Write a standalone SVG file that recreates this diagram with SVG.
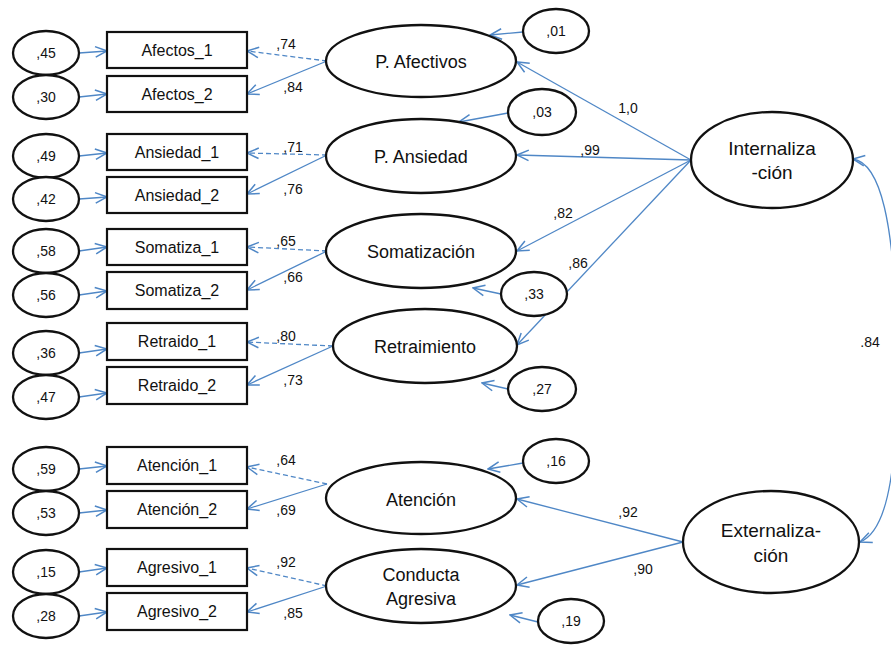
<svg xmlns="http://www.w3.org/2000/svg" width="891" height="646" viewBox="0 0 891 646">
<defs>
<marker id="arr" markerUnits="userSpaceOnUse" markerWidth="14" markerHeight="14" viewBox="0 0 12 12" refX="11" refY="6" orient="auto-start-reverse">
<path d="M1,1.5 L11,6 L1,10.5" fill="none" stroke="#4f87c6" stroke-width="1.3"/>
</marker>
</defs>
<style>
text{font-family:"Liberation Sans",Arial,sans-serif;fill:#111;text-anchor:middle}
.ell{fill:#fff;stroke:#111;stroke-width:2.3}
.box{fill:#fff;stroke:#111;stroke-width:2.2}
.ln{fill:none;stroke:#4f87c6;stroke-width:1.3;marker-end:url(#arr)}
.dash{stroke-dasharray:5,3}
.n{font-size:14px}
.b{font-size:16px}
.l{font-size:18px}
.lab{font-size:14px}
</style>

<g id="connectors">
<line class="ln" x1="79" y1="53" x2="107" y2="51"/>
<line class="ln" x1="79" y1="97" x2="107" y2="94"/>
<line class="ln" x1="79" y1="156" x2="107" y2="153"/>
<line class="ln" x1="79" y1="199" x2="107" y2="197"/>
<line class="ln" x1="79" y1="251" x2="107" y2="247"/>
<line class="ln" x1="79" y1="295" x2="107" y2="291"/>
<line class="ln" x1="79" y1="353" x2="107" y2="349"/>
<line class="ln" x1="79" y1="397" x2="107" y2="393"/>
<line class="ln" x1="79" y1="469" x2="107" y2="466"/>
<line class="ln" x1="79" y1="513" x2="107" y2="510"/>
<line class="ln" x1="79" y1="572" x2="107" y2="568"/>
<line class="ln" x1="79" y1="616" x2="107" y2="612"/>
<line class="ln dash" x1="327" y1="61" x2="247" y2="51"/>
<line class="ln" x1="327" y1="61" x2="247" y2="94"/>
<line class="ln dash" x1="327" y1="155" x2="247" y2="153"/>
<line class="ln" x1="327" y1="155" x2="247" y2="194"/>
<line class="ln dash" x1="327" y1="251" x2="247" y2="247"/>
<line class="ln" x1="327" y1="251" x2="247" y2="290"/>
<line class="ln dash" x1="333" y1="346" x2="247" y2="342"/>
<line class="ln" x1="333" y1="346" x2="247" y2="385"/>
<line class="ln dash" x1="327" y1="484" x2="247" y2="467"/>
<line class="ln" x1="327" y1="484" x2="247" y2="509"/>
<line class="ln dash" x1="327" y1="586" x2="247" y2="568"/>
<line class="ln" x1="327" y1="586" x2="247" y2="612"/>
<line class="ln" x1="523" y1="32" x2="490" y2="35"/>
<line class="ln" x1="508" y1="113" x2="459" y2="122"/>
<line class="ln" x1="501" y1="294" x2="473" y2="288"/>
<line class="ln" x1="508" y1="389" x2="482" y2="383"/>
<line class="ln" x1="523" y1="463" x2="488" y2="469"/>
<line class="ln" x1="538" y1="622" x2="510" y2="615"/>
<line class="ln" x1="691" y1="160" x2="517" y2="62"/>
<line class="ln" x1="691" y1="160" x2="517" y2="155"/>
<line class="ln" x1="691" y1="160" x2="517" y2="251"/>
<line class="ln" x1="691" y1="160" x2="517" y2="345"/>
<line class="ln" x1="683" y1="542" x2="517" y2="499"/>
<line class="ln" x1="683" y1="542" x2="517" y2="585"/>
<path class="ln" style="marker-start:url(#arr)" d="M853,159 C880,163 895,220 897,350 C898,460 890,530 860,542"/>
</g>

<g id="labels">
<text class="lab" x="286" y="49">,74</text>
<text class="lab" x="293" y="92">,84</text>
<text class="lab" x="293" y="152">,71</text>
<text class="lab" x="293" y="194">,76</text>
<text class="lab" x="286" y="246">,65</text>
<text class="lab" x="293" y="282">,66</text>
<text class="lab" x="286" y="341">,80</text>
<text class="lab" x="293" y="385">,73</text>
<text class="lab" x="286" y="465">,64</text>
<text class="lab" x="286" y="515">,69</text>
<text class="lab" x="286" y="567">,92</text>
<text class="lab" x="293" y="618">,85</text>
<text class="lab" x="628" y="113">1,0</text>
<text class="lab" x="590" y="155">,99</text>
<text class="lab" x="563" y="218">,82</text>
<text class="lab" x="578" y="268">,86</text>
<text class="lab" x="628" y="517">,92</text>
<text class="lab" x="643" y="574">,90</text>
<text class="lab" x="870" y="347">.84</text>
</g>

<g id="e45"><ellipse class="ell" cx="46" cy="53" rx="33" ry="22"/><text class="n" x="46" y="58">,45</text></g>
<g id="e30"><ellipse class="ell" cx="46" cy="97" rx="33" ry="22"/><text class="n" x="46" y="102">,30</text></g>
<g id="e49"><ellipse class="ell" cx="46" cy="156" rx="33" ry="22"/><text class="n" x="46" y="161">,49</text></g>
<g id="e42"><ellipse class="ell" cx="46" cy="199" rx="33" ry="22"/><text class="n" x="46" y="204">,42</text></g>
<g id="e58"><ellipse class="ell" cx="46" cy="251" rx="33" ry="22"/><text class="n" x="46" y="256">,58</text></g>
<g id="e56"><ellipse class="ell" cx="46" cy="295" rx="33" ry="22"/><text class="n" x="46" y="300">,56</text></g>
<g id="e36"><ellipse class="ell" cx="46" cy="353" rx="33" ry="22"/><text class="n" x="46" y="358">,36</text></g>
<g id="e47"><ellipse class="ell" cx="46" cy="397" rx="33" ry="22"/><text class="n" x="46" y="402">,47</text></g>
<g id="e59"><ellipse class="ell" cx="46" cy="469" rx="33" ry="22"/><text class="n" x="46" y="474">,59</text></g>
<g id="e53"><ellipse class="ell" cx="46" cy="513" rx="33" ry="22"/><text class="n" x="46" y="518">,53</text></g>
<g id="e15"><ellipse class="ell" cx="46" cy="572" rx="33" ry="22"/><text class="n" x="46" y="577">,15</text></g>
<g id="e28"><ellipse class="ell" cx="46" cy="616" rx="33" ry="22"/><text class="n" x="46" y="621">,28</text></g>

<g id="afectos1"><rect class="box" x="107" y="32" width="140" height="36"/><text class="b" x="177" y="56">Afectos_1</text></g>
<g id="afectos2"><rect class="box" x="107" y="76" width="140" height="36"/><text class="b" x="177" y="100">Afectos_2</text></g>
<g id="ansiedad1"><rect class="box" x="107" y="134" width="140" height="36"/><text class="b" x="177" y="158">Ansiedad_1</text></g>
<g id="ansiedad2"><rect class="box" x="107" y="177" width="140" height="36"/><text class="b" x="177" y="201">Ansiedad_2</text></g>
<g id="somatiza1"><rect class="box" x="107" y="229" width="140" height="36"/><text class="b" x="177" y="253">Somatiza_1</text></g>
<g id="somatiza2"><rect class="box" x="107" y="272" width="140" height="37"/><text class="b" x="177" y="296">Somatiza_2</text></g>
<g id="retraido1"><rect class="box" x="107" y="323" width="140" height="37"/><text class="b" x="177" y="347">Retraido_1</text></g>
<g id="retraido2"><rect class="box" x="107" y="367" width="140" height="37"/><text class="b" x="177" y="391">Retraido_2</text></g>
<g id="atencion1"><rect class="box" x="107" y="447" width="140" height="37"/><text class="b" x="177" y="471">Atención_1</text></g>
<g id="atencion2"><rect class="box" x="107" y="491" width="140" height="37"/><text class="b" x="177" y="515">Atención_2</text></g>
<g id="agresivo1"><rect class="box" x="107" y="549" width="140" height="37"/><text class="b" x="177" y="573">Agresivo_1</text></g>
<g id="agresivo2"><rect class="box" x="107" y="593" width="140" height="37"/><text class="b" x="177" y="617">Agresivo_2</text></g>

<g id="pafectivos"><ellipse class="ell" cx="421" cy="61" rx="95" ry="36"/><text class="l" x="421" y="68">P. Afectivos</text></g>
<g id="pansiedad"><ellipse class="ell" cx="421" cy="156" rx="95" ry="37"/><text class="l" x="421" y="163">P. Ansiedad</text></g>
<g id="somatizacion"><ellipse class="ell" cx="421" cy="251" rx="95" ry="37"/><text class="l" x="421" y="258">Somatización</text></g>
<g id="retraimiento"><ellipse class="ell" cx="425" cy="346" rx="92" ry="37"/><text class="l" x="425" y="353">Retraimiento</text></g>
<g id="atencion"><ellipse class="ell" cx="421" cy="498" rx="95" ry="36"/><text class="l" x="421" y="506">Atención</text></g>
<g id="conducta"><ellipse class="ell" cx="421" cy="586" rx="95" ry="37"/><text class="l" x="421" y="581">Conducta</text><text class="l" x="421" y="605">Agresiva</text></g>

<g id="d01"><ellipse class="ell" cx="556" cy="31" rx="33" ry="22"/><text class="n" x="556" y="36">,01</text></g>
<g id="d03"><ellipse class="ell" cx="542" cy="112" rx="34" ry="23"/><text class="n" x="542" y="117">,03</text></g>
<g id="d33"><ellipse class="ell" cx="534" cy="294" rx="33" ry="22"/><text class="n" x="534" y="299">,33</text></g>
<g id="d27"><ellipse class="ell" cx="542" cy="389" rx="34" ry="22"/><text class="n" x="542" y="394">,27</text></g>
<g id="d16"><ellipse class="ell" cx="556" cy="461" rx="33" ry="22"/><text class="n" x="556" y="466">,16</text></g>
<g id="d19"><ellipse class="ell" cx="571" cy="621" rx="33" ry="22"/><text class="n" x="571" y="626">,19</text></g>

<g id="internalizacion"><ellipse class="ell" cx="772" cy="160" rx="81" ry="48"/><text class="l" x="772" y="155" style="font-size:19px">Internaliza</text><text class="l" x="772" y="179" style="font-size:19px">-ción</text></g>
<g id="externalizacion"><ellipse class="ell" cx="771" cy="542" rx="88" ry="51"/><text class="l" x="771" y="537" style="font-size:19px">Externaliza-</text><text class="l" x="771" y="562" style="font-size:19px">ción</text></g>
</svg>
